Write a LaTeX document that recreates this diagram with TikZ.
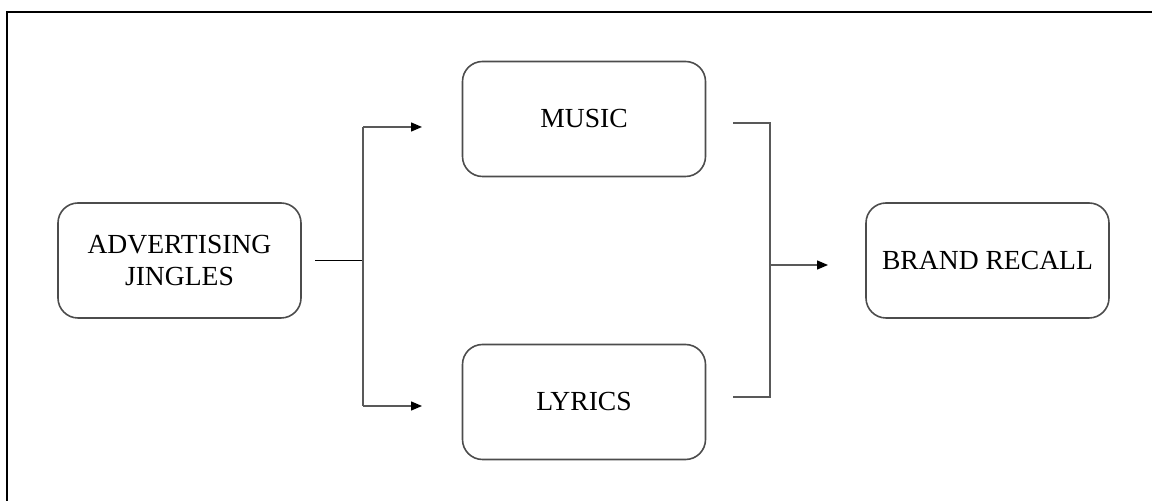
\documentclass[tikz,border=0pt]{standalone}
\usepackage{fontspec}
\setmainfont{Liberation Serif}
\usetikzlibrary{arrows.meta}

\begin{document}
\begin{tikzpicture}[x=0.5pt,y=-0.5pt,
		box/.style={draw=black!70,line width=0.8pt,rounded corners=10pt,
			minimum width=121.5pt,minimum height=57.5pt,align=center,
			font=\fontsize{13.8}{16}\selectfont},
		link/.style={draw=black!65,line width=0.7pt},
		tip/.style={-{Triangle[length=5.5pt,width=4.5pt,color=black]}}]
		\useasboundingbox (0,0) rectangle (1152,501);
		\draw[line width=1pt] (7,501) -- (7,12) -- (1152,12);
		
		\node[box] (jingles) at (179.5,260.5) {ADVERTISING\\JINGLES};
		\node[box] (music) at (584,119) {MUSIC};
		\node[box] (lyrics) at (584,402) {LYRICS};
		\node[box] (recall) at (987.5,260.5) {BRAND RECALL};
		
		% left fork
		\coordinate (jout) at (315,260.5);
		\coordinate (split) at (363,260.5);
		\coordinate (mtop) at (363,127);
		\coordinate (lbot) at (363,406);
		\coordinate (min) at (422,127);
		\coordinate (lin) at (422,406);
		\draw[link,draw=black] (jout) -- (split);
		\draw[link] (mtop) -- (lbot);
		\draw[link,tip] (mtop) -- (min);
		\draw[link,tip] (lbot) -- (lin);
		
		% right join
		\coordinate (mout) at (733,123);
		\coordinate (lout) at (733,397);
		\coordinate (jtop) at (770,123);
		\coordinate (jbot) at (770,397);
		\coordinate (merge) at (770,265);
		\coordinate (rin) at (828,265);
		\draw[link] (mout) -- (jtop) -- (jbot) -- (lout);
		\draw[link,tip] (merge) -- (rin);
	\end{tikzpicture}
\end{document}
